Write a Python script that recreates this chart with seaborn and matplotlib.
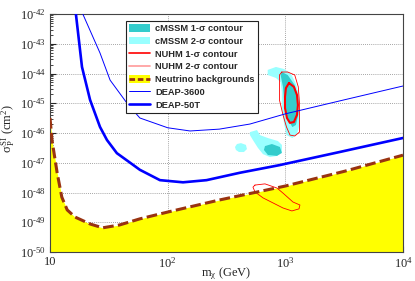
import numpy as np
import matplotlib
matplotlib.use("Agg")
import matplotlib.pyplot as plt
import seaborn as sns
from matplotlib.patches import Patch
from matplotlib.lines import Line2D
import matplotlib.ticker as ticker

# ---- data ----
# neutrino background floor
nu_mass = [10, 10.4, 11.5, 12.6, 14, 16.3, 22, 28, 39, 58, 100, 275, 1000, 3200, 10000]
nu_sigma = [3.2e-46, 5.8e-47, 4.6e-48, 7e-49, 2.6e-49, 1.5e-49, 8.7e-50, 6.5e-50,
            8.1e-50, 1.3e-49, 2.2e-49, 5.6e-49, 1.65e-48, 5.2e-48, 1.8e-47]

# DEAP-3600 sensitivity
d3600_mass = [19, 26.6, 32.4, 45, 58, 100, 155, 275, 500, 1000, 3160, 10000]
d3600_sigma = [1e-42, 4.9e-44, 6e-45, 1.02e-45, 3.2e-46, 1.5e-46, 1.17e-46,
               1.35e-46, 2e-46, 4.4e-46, 1.3e-45, 3.8e-45]

# DEAP-50T sensitivity
d50t_mass = [16.6, 18.7, 21.9, 26.6, 30.5, 37, 48, 58, 86, 135, 214, 410, 890, 2900, 10000]
d50t_sigma = [1e-42, 1.66e-44, 1.3e-45, 1.6e-46, 5.8e-47, 2.1e-47, 1e-47, 5.8e-48,
              2.6e-48, 2.2e-48, 2.6e-48, 4.6e-48, 8.3e-48, 2.3e-47, 6.8e-47]

# contours, log10(mass / GeV) and log10(sigma / cm^2)
cmssm2_up_logm = [2.85, 2.92, 2.99, 3.05, 3.09, 3.12, 3.12, 3.12, 3.10, 3.06, 3.01, 2.99, 2.97, 2.97, 2.96, 2.92, 2.85]
cmssm2_up_logs = [-43.88, -43.78, -43.85, -44.02, -44.35, -44.82, -45.29, -45.73, -46.03, -46.17, -46.07, -45.70, -45.16, -44.62, -44.29, -44.15, -44.05]
cmssm2_lo_logm = [2.699, 2.759, 2.784, 2.852, 2.937, 2.971, 2.971, 2.929, 2.869, 2.810, 2.767, 2.725, 2.699]
cmssm2_lo_logs = [-45.97, -45.90, -46.07, -46.17, -46.27, -46.40, -46.64, -46.77, -46.81, -46.71, -46.50, -46.24, -46.07]
cmssm2_sm_logm = [2.572, 2.589, 2.623, 2.665, 2.674, 2.648, 2.606, 2.580]
cmssm2_sm_logs = [-46.47, -46.37, -46.34, -46.40, -46.54, -46.64, -46.64, -46.57]

cmssm1_up_logm = [2.97, 3.02, 3.08, 3.11, 3.11, 3.09, 3.06, 3.01, 2.99, 2.98, 2.96]
cmssm1_up_logs = [-43.95, -44.05, -44.39, -44.89, -45.39, -45.73, -45.80, -45.46, -44.89, -44.45, -44.05]
cmssm1_lo_logm = [2.827, 2.886, 2.954, 2.971, 2.929, 2.852, 2.818]
cmssm1_lo_logs = [-46.44, -46.37, -46.47, -46.67, -46.77, -46.74, -46.57]

nuhm1_logm = [3.031, 3.073, 3.099, 3.107, 3.099, 3.073, 3.039, 3.014, 2.997, 2.997, 3.005]
nuhm1_logs = [-44.32, -44.45, -44.72, -45.06, -45.39, -45.63, -45.66, -45.50, -45.16, -44.79, -44.49]

nuhm2_up_logm = [2.97, 3.02, 3.08, 3.11, 3.12, 3.12, 3.12, 3.08, 3.04, 3.01, 2.98, 2.95, 2.95, 2.95]
nuhm2_up_logs = [-43.95, -43.95, -44.05, -44.45, -44.99, -45.56, -45.97, -46.10, -46.07, -45.80, -45.39, -44.89, -44.45, -44.05]
nuhm2_lo_logm = [2.742, 2.827, 2.929, 2.980, 3.065, 3.124, 3.116, 3.056, 2.980, 2.895, 2.810, 2.742, 2.725]
nuhm2_lo_logs = [-47.75, -47.71, -47.85, -48.02, -48.32, -48.42, -48.55, -48.62, -48.52, -48.35, -48.18, -47.98, -47.82]

# tick decades
x_decades = [1, 2, 3, 4]
y_decades = [-50, -49, -48, -47, -46, -45, -44, -43, -42]

# colours
c_teal = '#33cccc'
c_cyan = '#99ffff'
c_red = '#ff0000'
c_pink = '#ff9999'
c_yellow = '#ffff00'
c_brown = '#993311'
c_blue = '#0000ff'


def closed(lm, ls):
    x = 10 ** np.append(lm, lm[0])
    y = 10 ** np.append(ls, ls[0])
    return x, y


sns.set_style("ticks")
plt.rcParams['font.family'] = ['Liberation Serif', 'DejaVu Serif']
plt.rcParams['mathtext.fontset'] = 'custom'
plt.rcParams['mathtext.rm'] = 'Liberation Serif'
plt.rcParams['mathtext.it'] = 'Liberation Serif:italic'
plt.rcParams['mathtext.default'] = 'regular'

fig = plt.figure(figsize=(4.15, 2.81), dpi=100)
fig.subplots_adjust(left=50 / 415, right=403 / 415, top=1 - 14 / 281, bottom=1 - 252 / 281)
ax = fig.add_subplot(111)
ax.set_xscale('log')
ax.set_yscale('log')

ax.grid(True, which='major', color='#888888', linestyle=(0, (1, 1.5)), linewidth=0.6, zorder=0)

# neutrino floor fill
ax.fill_between(nu_mass, 1e-50, nu_sigma, color=c_yellow, zorder=1, linewidth=0)

# cMSSM contours
for lm, ls in [(cmssm2_up_logm, cmssm2_up_logs), (cmssm2_lo_logm, cmssm2_lo_logs),
               (cmssm2_sm_logm, cmssm2_sm_logs)]:
    x, y = closed(lm, ls)
    ax.fill(x, y, color=c_cyan, zorder=2, linewidth=0)
for lm, ls in [(cmssm1_up_logm, cmssm1_up_logs), (cmssm1_lo_logm, cmssm1_lo_logs)]:
    x, y = closed(lm, ls)
    ax.fill(x, y, color=c_teal, zorder=3, linewidth=0)

# NUHM contours
for lm, ls in [(nuhm2_up_logm, nuhm2_up_logs), (nuhm2_lo_logm, nuhm2_lo_logs)]:
    x, y = closed(lm, ls)
    ax.plot(x, y, color=c_red, linewidth=0.6, zorder=4)
x, y = closed(nuhm1_logm, nuhm1_logs)
ax.plot(x, y, color=c_red, linewidth=1.5, zorder=5)

# sensitivity curves
sns.lineplot(x=d3600_mass, y=d3600_sigma, sort=False, ax=ax, color=c_blue,
             linewidth=0.7, zorder=6)
sns.lineplot(x=d50t_mass, y=d50t_sigma, sort=False, ax=ax, color=c_blue,
             linewidth=1.9, zorder=6)
sns.lineplot(x=nu_mass, y=nu_sigma, sort=False, ax=ax, color=c_brown,
             linewidth=2.2, zorder=7)
ax.lines[-1].set_dashes((3.5, 1.4))

# axes style
for s in ax.spines.values():
    s.set_color('#444444')
    s.set_linewidth(0.8)
ax.tick_params(which='both', direction='in', labelsize=9, top=False, right=False)
ax.tick_params(which='major', length=4)
ax.tick_params(which='minor', length=2)

ax.set_xticks([10.0 ** e for e in x_decades])
ax.set_yticks([10.0 ** e for e in y_decades])
ax.set_xticklabels(['10' if e == 1 else r'10$^{%d}$' % e for e in x_decades])
ax.set_yticklabels([r'10$^{\text{-}%d}$' % (-e) for e in y_decades])
ax.yaxis.set_minor_locator(ticker.LogLocator(base=10, subs=np.arange(2, 10), numticks=20))
ax.yaxis.set_minor_formatter(ticker.NullFormatter())
ax.xaxis.set_minor_formatter(ticker.NullFormatter())
ax.set_xlim(10, 1e4)
ax.set_ylim(1e-50, 1e-42)
ax.tick_params(axis='x', pad=3)
ax.tick_params(axis='y', pad=3)

ax.set_xlabel(r'm$_{\chi}$ (GeV)', fontsize=9)
ax.xaxis.set_label_coords(0.5, -0.055)
ax.set_ylabel(r'$\sigma^{\,SI}_{\,P}$ (cm$^{2}$)', fontsize=9)
ax.yaxis.set_label_coords(-0.093, 0.52)

# legend
handles = [
    Patch(facecolor=c_teal, edgecolor='none'),
    Patch(facecolor=c_cyan, edgecolor='none'),
    Line2D([], [], color=c_red, linewidth=1.2),
    Line2D([], [], color=c_pink, linewidth=1.2),
    (Patch(facecolor=c_yellow, edgecolor='none'),
     Line2D([], [], color=c_brown, linewidth=2.0, dashes=(2, 1))),
    Line2D([], [], color=c_blue, linewidth=0.7),
    Line2D([], [], color=c_blue, linewidth=1.9),
]
labels = [u'cMSSM 1-\u03c3 contour', u'cMSSM 2-\u03c3 contour',
          u'NUHM 1-\u03c3 contour', u'NUHM 2-\u03c3 contour',
          'Neutrino backgrounds', 'DEAP-3600', 'DEAP-50T']
leg = ax.legend(handles, labels, loc='upper left', bbox_to_anchor=(0.215, 0.972),
                frameon=True, fancybox=False, framealpha=1, edgecolor='#222222',
                prop={'family': ['Liberation Sans', 'DejaVu Sans'], 'weight': 'bold', 'size': 6.7},
                handlelength=2.2, handleheight=0.9, labelspacing=0.4,
                borderpad=0.35, handletextpad=0.6, borderaxespad=0)
leg.get_frame().set_linewidth(0.8)
leg.set_zorder(10)

fig.savefig('out.png', dpi=100)
